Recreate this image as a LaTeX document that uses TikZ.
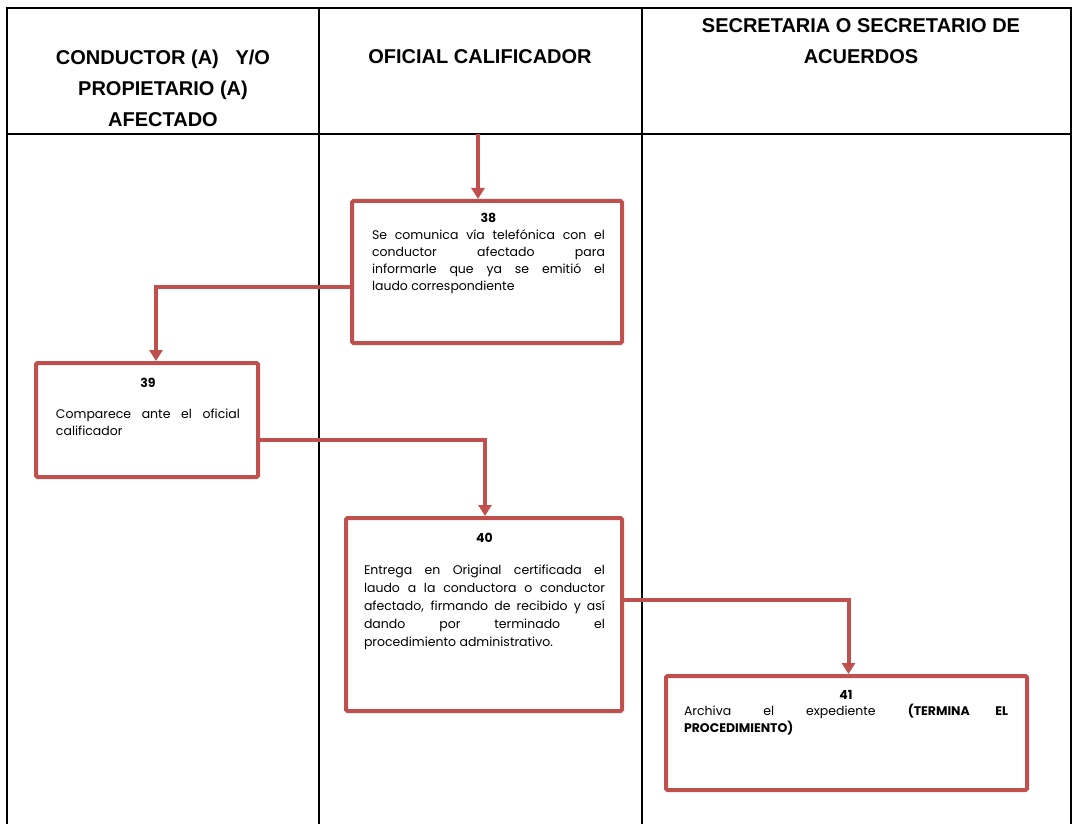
\documentclass[tikz,border=0pt]{standalone}
\usepackage{fontspec}
\setmainfont{Poppins}
\newfontfamily\headfont{Liberation Sans}
\usetikzlibrary{arrows.meta,positioning,shadows}
\definecolor{boxred}{HTML}{C0504D}

\begin{document}
\begin{tikzpicture}[x=1pt,y=-1pt,
  rule/.style={line width=1.1pt},
  head/.style={font=\headfont\bfseries\fontsize{20}{31}\selectfont,align=center},
  stepbox/.style={draw=boxred,line width=4pt,fill=white,rounded corners=1.5pt,
    drop shadow={shadow xshift=1.5pt,shadow yshift=-1.5pt,opacity=.25}},
  steptext/.style={anchor=north,inner sep=0pt,align=justify,
    font=\fontsize{12.5}{17}\selectfont},
  flow/.style={draw=boxred,line width=4pt,-{Triangle[width=13pt,length=11pt]}}]
\useasboundingbox(0,0)rectangle(1072,824);
% table
\draw[rule](7,824)--(7,8)--(1071,8)--(1071,824);
\draw[rule](7,134)--(1071,134);
\draw[rule](319,8)--(319,824);
\draw[rule](642,8)--(642,824);
\node[head](h1)at(163,88){CONDUCTOR (A) \ \ Y/O\\PROPIETARIO (A)\\AFECTADO};
\node[head](h2)at(480,57){OFICIAL CALIFICADOR};
\node[head](h3)at(861,41){SECRETARIA O SECRETARIO DE\\ACUERDOS};
% boxes
\node[stepbox,minimum width=270pt,minimum height=142pt](b38)at(487,272){};
\node[stepbox,minimum width=222pt,minimum height=114pt](b39)at(147,420){};
\node[stepbox,minimum width=276pt,minimum height=193pt](b40)at(484,614.5){};
\node[stepbox,minimum width=361pt,minimum height=114pt](b41)at(846.5,733){};
\node[steptext,text width=233pt](t38)at(488.5,213){{\centering\textbf{38}\par}
  Se comunica vía telefónica con el\linebreak conductor afectado para\linebreak
  informarle que ya se emitió el\linebreak laudo correspondiente};
\node[steptext,text width=184pt](t39)at(148,378){{\centering\textbf{39}\par}
  \vspace{14pt}Comparece ante el oficial\linebreak calificador};
\node[steptext,text width=241pt,font=\fontsize{12.5}{18}\selectfont](t40)at(484.5,533){{\centering\textbf{40}\par}
  \vspace{14pt}Entrega en Original certificada el\linebreak laudo a la conductora o conductor\linebreak
  afectado, firmando de recibido y así\linebreak dando por terminado el\linebreak
  procedimiento administrativo.};
\node[steptext,text width=324pt,font=\fontsize{12.5}{16.5}\selectfont](t41)at(846,690){{\centering\textbf{41}\par}
  Archiva el expediente \textbf{(TERMINA EL}\linebreak \textbf{PROCEDIMIENTO)}};
% connectors
\coordinate(in38)at(478,134);
\draw[flow](in38)--(in38|-b38.north);
\draw[flow]([yshift=-15pt]b38.west)-|([xshift=9pt]b39.north);
\draw[flow]([yshift=-20pt]b39.east)-|([xshift=1pt]b40.north);
\draw[flow]([yshift=14.5pt]b40.east)-|([xshift=2pt]b41.north);
\end{tikzpicture}
\end{document}
